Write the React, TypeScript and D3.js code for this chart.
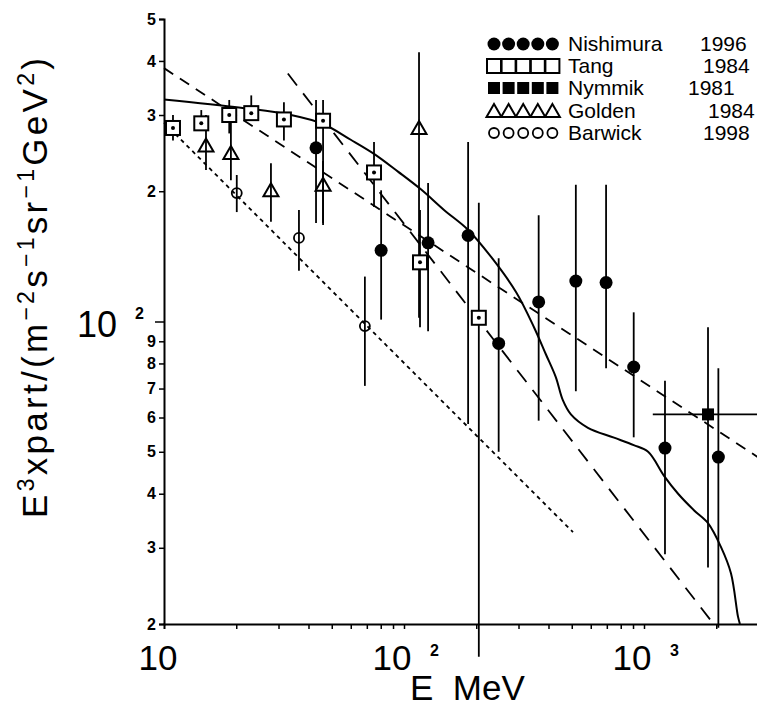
import React, { useEffect, useRef } from 'react';
import * as d3 from 'd3';

// Nishimura 1996 - filled circles
const nishimuraE = [43, 80.3, 126, 185, 248, 364, 520, 695, 906, 1223, 2041];
const nishimuraV = [252, 146, 152, 158, 89, 111, 124, 123, 78.5, 51, 48.6];
const nishimuraLo = [169, 101, 95, 58, 50, 59, 69, 78, 54, 29, 19.6];
const nishimuraHi = [325, 201, 209, 260, 140, 176, 207, 207, 105, 73, 78];

// Tang 1984 - open squares
const tangE = [10.9, 14.3, 18.7, 23.1, 31.6, 46, 75, 116.6, 205];
const tangV = [280, 287, 300, 303, 293, 291, 221, 137, 102];
const tangLo = [262, 277, 272, 292, 262, 167, 184, 97, 16.8];
const tangHi = [300, 308, 325, 333, 321, 325, 260, 181, 188];

// Nymmik 1981 - filled squares
const nymmikE = [1848];
const nymmikV = [61];
const nymmikLo = [27];
const nymmikHi = [97];
const nymmikELo = [1088];
const nymmikEHi = [2980];

// Golden 1984 - open triangles
const goldenE = [14.96, 19.0, 27.9, 46, 115.5];
const goldenV = [255, 245, 201, 207, 280];
const goldenLo = [224, 212, 170, 169, 102];
const goldenHi = [300, 289, 232, 235, 419];

// Barwick 1998 - small open circles
const barwickE = [20.1, 36.5, 68.7];
const barwickV = [198, 156, 97.6];
const barwickLo = [179, 131, 71];
const barwickHi = [218, 181, 127];

// model curves
const solidE = [10, 20.9, 33.8, 46, 60, 75, 94.4, 117.6, 146.8, 184.6, 230.7, 292.9, 348, 390, 429, 459, 496, 584, 750, 906, 1040, 1212, 1387, 1618, 1848, 2094, 2303, 2464, 2510];
const solidV = [326, 312, 300, 286, 263, 244, 222, 202, 181, 163, 141, 117, 97, 84, 74.4, 65.8, 61, 56.8, 53.9, 51.8, 50, 44, 40, 36.6, 34.2, 30.1, 26.2, 20.8, 20];
const dashAE = [10, 2980];
const dashAV = [385, 48.6];
const dashBE = [32.8, 1950];
const dashBV = [374, 20];
const dotE = [10, 506];
const dotV = [288, 32.6];

// axis ticks
const yTicks = [20, 30, 40, 50, 60, 70, 80, 90, 100, 200, 300, 400, 500];
const xTicks = [20, 30, 40, 50, 60, 70, 80, 90, 100, 200, 300, 400, 500, 600, 700, 800, 900, 1000, 2000];
const xDecades = [10, 100, 1000];
const xDecadeExp = ['', '2', '3'];

const legendNames = ['Nishimura', 'Tang', 'Nymmik', 'Golden', 'Barwick'];
const legendYears = ['1996', '1984', '1981', '1984', '1998'];
const legendYearX = [700, 703, 688, 708, 703];

const FONT = '"Liberation Sans", Arial, sans-serif';

const App = () => {
  const svgRef = useRef<SVGSVGElement>(null);

  useEffect(() => {
    const svg = d3.select(svgRef.current);
    svg.selectAll('*').remove();

    const x = d3.scaleLog().domain([10, 3000]).range([164, 164 + 240 * Math.log10(300)]);
    const y = d3.scaleLog().domain([20, 500]).range([624, 19]);

    // y axis
    const yAxis = svg.append('g')
      .attr('transform', `translate(${x(10)},0)`)
      .call(d3.axisLeft(y).tickValues(yTicks).tickSizeOuter(0).tickSize(5)
        .tickFormat((d: any) => (d === 100 ? '' : String(+d / Math.pow(10, Math.floor(Math.log10(+d)))))));
    yAxis.select('.domain').attr('stroke-width', 2);
    yAxis.selectAll('.tick line').attr('stroke-width', 1.5).attr('x2', (d: any) => (d === 100 ? -9 : -5));
    yAxis.selectAll('.tick text').attr('font-family', FONT).attr('font-size', 16).attr('font-weight', 'bold').attr('x', -8);

    // x axis
    const xAxis = svg.append('g')
      .attr('transform', `translate(0,${y(20)})`)
      .call(d3.axisBottom(x).tickValues(xTicks).tickSizeOuter(0).tickSize(5).tickFormat(() => ''));
    xAxis.select('.domain').attr('stroke-width', 2);
    xAxis.selectAll('.tick line').attr('stroke-width', 1.5);

    // decade labels on x
    xDecades.forEach((d, i) => {
      svg.append('text')
        .attr('x', i === 0 ? x(d) - 6 : x(d) - 12)
        .attr('y', 670)
        .attr('text-anchor', 'middle')
        .attr('font-family', FONT)
        .attr('font-size', 35)
        .text('10');
      if (xDecadeExp[i]) {
        svg.append('text')
          .attr('x', x(d) + 26)
          .attr('y', 656)
          .attr('font-family', FONT)
          .attr('font-size', 16)
          .attr('font-weight', 'bold')
          .text(xDecadeExp[i]);
      }
    });

    // 10^2 on y
    svg.append('text').attr('x', 77).attr('y', y(100) + 15)
      .attr('font-family', FONT).attr('font-size', 36).text('10');
    svg.append('text').attr('x', 135).attr('y', y(100) - 3)
      .attr('font-family', FONT).attr('font-size', 16).attr('font-weight', 'bold').text('2');

    // axis titles
    svg.append('text').attr('x', 410).attr('y', 700)
      .attr('font-family', FONT).attr('font-size', 35).attr('xml:space', 'preserve').text('E  MeV');

    const yt = svg.append('text')
      .attr('transform', 'translate(47,518) rotate(-90)')
      .attr('font-family', FONT).attr('font-size', 35)
      .attr('textLength', 460).attr('lengthAdjust', 'spacing');
    const parts: [string, boolean][] = [
      ['E', false], ['3', true], ['xpart/(m', false], ['\u22122', true], ['s', false], ['\u22121', true],
      ['sr', false], ['\u22121', true], ['GeV', false], ['2', true], [')', false]
    ];
    parts.forEach(([s, sup]) => {
      yt.append('tspan')
        .attr('font-size', sup ? 23 : 35)
        .attr('baseline-shift', sup ? '55%' : '0%')
        .text(s);
    });

    // curves
    const line = d3.line<[number, number]>()
      .x(d => x(d[0]))
      .y(d => y(d[1]));
    const curve = d3.line<[number, number]>()
      .x(d => x(d[0]))
      .y(d => y(d[1]))
      .curve(d3.curveCatmullRom.alpha(0.5));

    svg.append('path').datum(solidE.map((e, i) => [e, solidV[i]] as [number, number]))
      .attr('d', curve).attr('fill', 'none').attr('stroke', '#000').attr('stroke-width', 2);
    svg.append('path').datum(dashAE.map((e, i) => [e, dashAV[i]] as [number, number]))
      .attr('d', line).attr('fill', 'none').attr('stroke', '#000').attr('stroke-width', 1.8)
      .attr('stroke-dasharray', '11,8');
    svg.append('path').datum(dashBE.map((e, i) => [e, dashBV[i]] as [number, number]))
      .attr('d', line).attr('fill', 'none').attr('stroke', '#000').attr('stroke-width', 1.8)
      .attr('stroke-dasharray', '15,10');
    svg.append('path').datum(dotE.map((e, i) => [e, dotV[i]] as [number, number]))
      .attr('d', line).attr('fill', 'none').attr('stroke', '#000').attr('stroke-width', 1.8)
      .attr('stroke-dasharray', '4,4');

    // error bars
    const errBars = (E: number[], lo: number[], hi: number[]) => {
      svg.append('g').selectAll('line').data(E).enter().append('line')
        .attr('x1', d => x(d)).attr('x2', d => x(d))
        .attr('y1', (d, i) => y(lo[i])).attr('y2', (d, i) => y(hi[i]))
        .attr('stroke', '#000').attr('stroke-width', 1.8);
    };
    errBars(nishimuraE, nishimuraLo, nishimuraHi);
    errBars(tangE, tangLo, tangHi);
    errBars(nymmikE, nymmikLo, nymmikHi);
    errBars(goldenE, goldenLo, goldenHi);
    errBars(barwickE, barwickLo, barwickHi);
    svg.append('g').selectAll('line').data(nymmikE).enter().append('line')
      .attr('x1', (d, i) => x(nymmikELo[i])).attr('x2', (d, i) => x(nymmikEHi[i]))
      .attr('y1', (d, i) => y(nymmikV[i])).attr('y2', (d, i) => y(nymmikV[i]))
      .attr('stroke', '#000').attr('stroke-width', 1.8);

    // marker shapes, drawn at (cx, cy)
    const drawCircle = (g: any, cx: number, cy: number) =>
      g.append('circle').attr('cx', cx).attr('cy', cy).attr('r', 6.5).attr('fill', '#000');
    const drawSquare = (g: any, cx: number, cy: number, dot: boolean) => {
      g.append('rect').attr('x', cx - 7).attr('y', cy - 7).attr('width', 14).attr('height', 14)
        .attr('fill', dot ? '#fff' : 'none').attr('stroke', '#000').attr('stroke-width', 2);
      if (dot) g.append('circle').attr('cx', cx).attr('cy', cy).attr('r', 2).attr('fill', '#000');
    };
    const drawFilledSquare = (g: any, cx: number, cy: number) =>
      g.append('rect').attr('x', cx - 6).attr('y', cy - 6).attr('width', 12).attr('height', 12).attr('fill', '#000');
    const drawTriangle = (g: any, cx: number, cy: number) =>
      g.append('path').attr('d', `M${cx - 7.5},${cy + 6}L${cx + 7.5},${cy + 6}L${cx},${cy - 7}Z`)
        .attr('fill', 'none').attr('stroke', '#000').attr('stroke-width', 2);
    const drawOpenCircle = (g: any, cx: number, cy: number) =>
      g.append('circle').attr('cx', cx).attr('cy', cy).attr('r', 5).attr('fill', 'none')
        .attr('stroke', '#000').attr('stroke-width', 1.8);

    const marks = svg.append('g');
    tangE.forEach((e, i) => drawSquare(marks, x(e), y(tangV[i]), true));
    goldenE.forEach((e, i) => drawTriangle(marks, x(e), y(goldenV[i])));
    barwickE.forEach((e, i) => drawOpenCircle(marks, x(e), y(barwickV[i])));
    nishimuraE.forEach((e, i) => drawCircle(marks, x(e), y(nishimuraV[i])));
    nymmikE.forEach((e, i) => drawFilledSquare(marks, x(e), y(nymmikV[i])));

    // legend
    const legend = svg.append('g');
    const rowY = [44, 66, 88, 111, 133];
    legendNames.forEach((name, r) => {
      for (let k = 0; k < 5; k++) {
        const cx = 494 + k * 14.6;
        const cy = rowY[r];
        if (r === 0) drawCircle(legend, cx, cy);
        else if (r === 1) drawSquare(legend, cx, cy, false);
        else if (r === 2) drawFilledSquare(legend, cx, cy);
        else if (r === 3) drawTriangle(legend, cx, cy);
        else drawOpenCircle(legend, cx, cy);
      }
      legend.append('text').attr('x', 568).attr('y', rowY[r] + 7)
        .attr('font-family', FONT).attr('font-size', 21).text(name);
      legend.append('text').attr('x', legendYearX[r]).attr('y', rowY[r] + 7)
        .attr('font-family', FONT).attr('font-size', 21).text(legendYears[r]);
    });
  }, []);

  return (
    <svg ref={svgRef} width={757} height={708}
      style={{ position: 'absolute', left: 0, top: 0, background: '#fff' }} />
  );
};

export default App;
